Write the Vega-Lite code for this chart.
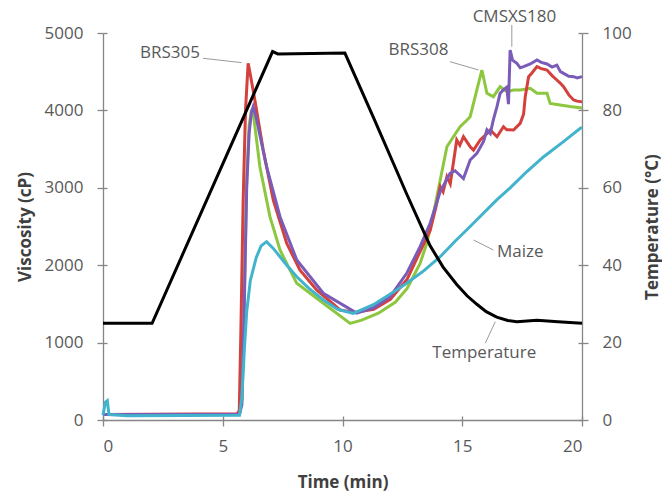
{
  "$schema": "https://vega.github.io/schema/vega-lite/v6.json",
  "width": 479,
  "height": 387,
  "autosize": {"type": "none"},
  "padding": {"left": 103, "top": 33, "right": 80, "bottom": 73},
  "background": "white",
  "config": {
    "view": {"stroke": null},
    "font": "Open Sans",
    "axis": {"grid": false, "domainColor": "#868686", "tickColor": "#868686", "labelColor": "#595959", "labelFont": "Open Sans", "labelFontSize": 17, "titleFont": "Open Sans", "titleFontSize": 17, "titleFontWeight": "bold", "titleColor": "#404040", "tickSize": 6, "domainWidth": 1.3, "tickWidth": 1.3}
  },
  "datasets": {
    "visc": [
      {"series": "BRS308", "time": 0, "viscosity": 70},
      {"series": "BRS308", "time": 5.7, "viscosity": 75},
      {"series": "BRS308", "time": 5.8, "viscosity": 250},
      {"series": "BRS308", "time": 5.9, "viscosity": 1600},
      {"series": "BRS308", "time": 6.0, "viscosity": 3100},
      {"series": "BRS308", "time": 6.1, "viscosity": 3800},
      {"series": "BRS308", "time": 6.2, "viscosity": 4005},
      {"series": "BRS308", "time": 6.3, "viscosity": 3900},
      {"series": "BRS308", "time": 6.55, "viscosity": 3272},
      {"series": "BRS308", "time": 6.97, "viscosity": 2627},
      {"series": "BRS308", "time": 7.39, "viscosity": 2196},
      {"series": "BRS308", "time": 8.09, "viscosity": 1766},
      {"series": "BRS308", "time": 9.2, "viscosity": 1508},
      {"series": "BRS308", "time": 10.32, "viscosity": 1249},
      {"series": "BRS308", "time": 10.8, "viscosity": 1290},
      {"series": "BRS308", "time": 11.5, "viscosity": 1380},
      {"series": "BRS308", "time": 12.2, "viscosity": 1520},
      {"series": "BRS308", "time": 12.7, "viscosity": 1700},
      {"series": "BRS308", "time": 13.24, "viscosity": 2024},
      {"series": "BRS308", "time": 13.52, "viscosity": 2283},
      {"series": "BRS308", "time": 13.8, "viscosity": 2670},
      {"series": "BRS308", "time": 14.08, "viscosity": 3101},
      {"series": "BRS308", "time": 14.36, "viscosity": 3531},
      {"series": "BRS308", "time": 14.63, "viscosity": 3660},
      {"series": "BRS308", "time": 14.91, "viscosity": 3789},
      {"series": "BRS308", "time": 15.2, "viscosity": 3876},
      {"series": "BRS308", "time": 15.33, "viscosity": 3919},
      {"series": "BRS308", "time": 15.61, "viscosity": 4264},
      {"series": "BRS308", "time": 15.82, "viscosity": 4522},
      {"series": "BRS308", "time": 16.03, "viscosity": 4221},
      {"series": "BRS308", "time": 16.3, "viscosity": 4177},
      {"series": "BRS308", "time": 16.58, "viscosity": 4306},
      {"series": "BRS308", "time": 16.86, "viscosity": 4242},
      {"series": "BRS308", "time": 17.14, "viscosity": 4264},
      {"series": "BRS308", "time": 17.42, "viscosity": 4264},
      {"series": "BRS308", "time": 17.84, "viscosity": 4285},
      {"series": "BRS308", "time": 18.12, "viscosity": 4221},
      {"series": "BRS308", "time": 18.54, "viscosity": 4221},
      {"series": "BRS308", "time": 18.67, "viscosity": 4091},
      {"series": "BRS308", "time": 19.09, "viscosity": 4070},
      {"series": "BRS308", "time": 19.5, "viscosity": 4050},
      {"series": "BRS308", "time": 20, "viscosity": 4030},

      {"series": "BRS305", "time": 0, "viscosity": 70},
      {"series": "BRS305", "time": 5.6, "viscosity": 80},
      {"series": "BRS305", "time": 5.69, "viscosity": 120},
      {"series": "BRS305", "time": 5.76, "viscosity": 1200},
      {"series": "BRS305", "time": 5.85, "viscosity": 2800},
      {"series": "BRS305", "time": 5.95, "viscosity": 4000},
      {"series": "BRS305", "time": 6.06, "viscosity": 4608},
      {"series": "BRS305", "time": 6.13, "viscosity": 4500},
      {"series": "BRS305", "time": 6.34, "viscosity": 4134},
      {"series": "BRS305", "time": 6.69, "viscosity": 3488},
      {"series": "BRS305", "time": 7.11, "viscosity": 2842},
      {"series": "BRS305", "time": 7.67, "viscosity": 2283},
      {"series": "BRS305", "time": 8.22, "viscosity": 1938},
      {"series": "BRS305", "time": 8.92, "viscosity": 1680},
      {"series": "BRS305", "time": 9.9, "viscosity": 1421},
      {"series": "BRS305", "time": 10.5, "viscosity": 1390},
      {"series": "BRS305", "time": 11.3, "viscosity": 1430},
      {"series": "BRS305", "time": 12.0, "viscosity": 1560},
      {"series": "BRS305", "time": 12.7, "viscosity": 1820},
      {"series": "BRS305", "time": 13.2, "viscosity": 2150},
      {"series": "BRS305", "time": 13.66, "viscosity": 2450},
      {"series": "BRS305", "time": 13.9, "viscosity": 2750},
      {"series": "BRS305", "time": 14.08, "viscosity": 3015},
      {"series": "BRS305", "time": 14.2, "viscosity": 2950},
      {"series": "BRS305", "time": 14.36, "viscosity": 3143},
      {"series": "BRS305", "time": 14.5, "viscosity": 3050},
      {"series": "BRS305", "time": 14.77, "viscosity": 3618},
      {"series": "BRS305", "time": 14.9, "viscosity": 3550},
      {"series": "BRS305", "time": 15.05, "viscosity": 3660},
      {"series": "BRS305", "time": 15.33, "viscosity": 3531},
      {"series": "BRS305", "time": 15.47, "viscosity": 3488},
      {"series": "BRS305", "time": 15.75, "viscosity": 3618},
      {"series": "BRS305", "time": 16.03, "viscosity": 3700},
      {"series": "BRS305", "time": 16.17, "viscosity": 3747},
      {"series": "BRS305", "time": 16.45, "viscosity": 3660},
      {"series": "BRS305", "time": 16.72, "viscosity": 3789},
      {"series": "BRS305", "time": 16.86, "viscosity": 3750},
      {"series": "BRS305", "time": 17.14, "viscosity": 3747},
      {"series": "BRS305", "time": 17.42, "viscosity": 3833},
      {"series": "BRS305", "time": 17.56, "viscosity": 3950},
      {"series": "BRS305", "time": 17.63, "viscosity": 4177},
      {"series": "BRS305", "time": 17.77, "viscosity": 4436},
      {"series": "BRS305", "time": 17.9, "viscosity": 4480},
      {"series": "BRS305", "time": 18.12, "viscosity": 4565},
      {"series": "BRS305", "time": 18.3, "viscosity": 4540},
      {"series": "BRS305", "time": 18.54, "viscosity": 4522},
      {"series": "BRS305", "time": 18.75, "viscosity": 4450},
      {"series": "BRS305", "time": 18.95, "viscosity": 4393},
      {"series": "BRS305", "time": 19.1, "viscosity": 4350},
      {"series": "BRS305", "time": 19.23, "viscosity": 4306},
      {"series": "BRS305", "time": 19.45, "viscosity": 4200},
      {"series": "BRS305", "time": 19.65, "viscosity": 4134},
      {"series": "BRS305", "time": 19.8, "viscosity": 4120},
      {"series": "BRS305", "time": 20, "viscosity": 4110},

      {"series": "CMSXS180", "time": 0, "viscosity": 70},
      {"series": "CMSXS180", "time": 5.7, "viscosity": 75},
      {"series": "CMSXS180", "time": 5.8, "viscosity": 200},
      {"series": "CMSXS180", "time": 5.9, "viscosity": 1500},
      {"series": "CMSXS180", "time": 6.0, "viscosity": 3000},
      {"series": "CMSXS180", "time": 6.1, "viscosity": 3700},
      {"series": "CMSXS180", "time": 6.2, "viscosity": 3980},
      {"series": "CMSXS180", "time": 6.27, "viscosity": 4048},
      {"series": "CMSXS180", "time": 6.4, "viscosity": 3900},
      {"series": "CMSXS180", "time": 6.83, "viscosity": 3272},
      {"series": "CMSXS180", "time": 7.39, "viscosity": 2627},
      {"series": "CMSXS180", "time": 8.09, "viscosity": 2067},
      {"series": "CMSXS180", "time": 9.2, "viscosity": 1637},
      {"series": "CMSXS180", "time": 10.59, "viscosity": 1382},
      {"series": "CMSXS180", "time": 11.3, "viscosity": 1450},
      {"series": "CMSXS180", "time": 11.99, "viscosity": 1593},
      {"series": "CMSXS180", "time": 12.68, "viscosity": 1895},
      {"series": "CMSXS180", "time": 13.24, "viscosity": 2239},
      {"series": "CMSXS180", "time": 13.66, "viscosity": 2541},
      {"series": "CMSXS180", "time": 14.08, "viscosity": 2950},
      {"series": "CMSXS180", "time": 14.49, "viscosity": 3187},
      {"series": "CMSXS180", "time": 14.7, "viscosity": 3220},
      {"series": "CMSXS180", "time": 15.05, "viscosity": 3120},
      {"series": "CMSXS180", "time": 15.33, "viscosity": 3359},
      {"series": "CMSXS180", "time": 15.61, "viscosity": 3445},
      {"series": "CMSXS180", "time": 15.89, "viscosity": 3600},
      {"series": "CMSXS180", "time": 16.03, "viscosity": 3750},
      {"series": "CMSXS180", "time": 16.17, "viscosity": 3700},
      {"series": "CMSXS180", "time": 16.3, "viscosity": 3880},
      {"series": "CMSXS180", "time": 16.45, "viscosity": 4048},
      {"series": "CMSXS180", "time": 16.58, "viscosity": 4221},
      {"series": "CMSXS180", "time": 16.72, "viscosity": 4264},
      {"series": "CMSXS180", "time": 16.86, "viscosity": 4300},
      {"series": "CMSXS180", "time": 16.93, "viscosity": 4080},
      {"series": "CMSXS180", "time": 17.0, "viscosity": 4780},
      {"series": "CMSXS180", "time": 17.1, "viscosity": 4650},
      {"series": "CMSXS180", "time": 17.28, "viscosity": 4608},
      {"series": "CMSXS180", "time": 17.42, "viscosity": 4550},
      {"series": "CMSXS180", "time": 17.56, "viscosity": 4565},
      {"series": "CMSXS180", "time": 17.84, "viscosity": 4600},
      {"series": "CMSXS180", "time": 18.12, "viscosity": 4651},
      {"series": "CMSXS180", "time": 18.3, "viscosity": 4620},
      {"series": "CMSXS180", "time": 18.54, "viscosity": 4600},
      {"series": "CMSXS180", "time": 18.75, "viscosity": 4560},
      {"series": "CMSXS180", "time": 18.95, "viscosity": 4586},
      {"series": "CMSXS180", "time": 19.1, "viscosity": 4500},
      {"series": "CMSXS180", "time": 19.23, "viscosity": 4479},
      {"series": "CMSXS180", "time": 19.45, "viscosity": 4440},
      {"series": "CMSXS180", "time": 19.65, "viscosity": 4436},
      {"series": "CMSXS180", "time": 19.8, "viscosity": 4420},
      {"series": "CMSXS180", "time": 20, "viscosity": 4436},

      {"series": "Maize", "time": 0, "viscosity": 60},
      {"series": "Maize", "time": 0.1, "viscosity": 230},
      {"series": "Maize", "time": 0.18, "viscosity": 250},
      {"series": "Maize", "time": 0.25, "viscosity": 70},
      {"series": "Maize", "time": 1, "viscosity": 55},
      {"series": "Maize", "time": 5.7, "viscosity": 60},
      {"series": "Maize", "time": 5.8, "viscosity": 300},
      {"series": "Maize", "time": 5.9, "viscosity": 900},
      {"series": "Maize", "time": 6.0, "viscosity": 1400},
      {"series": "Maize", "time": 6.15, "viscosity": 1800},
      {"series": "Maize", "time": 6.4, "viscosity": 2100},
      {"series": "Maize", "time": 6.6, "viscosity": 2250},
      {"series": "Maize", "time": 6.83, "viscosity": 2304},
      {"series": "Maize", "time": 7.1, "viscosity": 2220},
      {"series": "Maize", "time": 7.39, "viscosity": 2110},
      {"series": "Maize", "time": 7.7, "viscosity": 1990},
      {"series": "Maize", "time": 8.09, "viscosity": 1851},
      {"series": "Maize", "time": 8.6, "viscosity": 1700},
      {"series": "Maize", "time": 9.2, "viscosity": 1550},
      {"series": "Maize", "time": 9.8, "viscosity": 1430},
      {"series": "Maize", "time": 10.45, "viscosity": 1378},
      {"series": "Maize", "time": 11.29, "viscosity": 1490},
      {"series": "Maize", "time": 12.26, "viscosity": 1680},
      {"series": "Maize", "time": 12.68, "viscosity": 1766},
      {"series": "Maize", "time": 13.4, "viscosity": 1930},
      {"series": "Maize", "time": 14.08, "viscosity": 2110},
      {"series": "Maize", "time": 14.7, "viscosity": 2310},
      {"series": "Maize", "time": 15.33, "viscosity": 2500},
      {"series": "Maize", "time": 16.44, "viscosity": 2843},
      {"series": "Maize", "time": 17.0, "viscosity": 3000},
      {"series": "Maize", "time": 17.7, "viscosity": 3210},
      {"series": "Maize", "time": 18.4, "viscosity": 3402},
      {"series": "Maize", "time": 19.2, "viscosity": 3590},
      {"series": "Maize", "time": 19.93, "viscosity": 3769},
      {"series": "Maize", "time": 20, "viscosity": 3780}
    ],
    "temp": [
      {"time": 0, "temperature": 25},
      {"time": 2.05, "temperature": 25},
      {"time": 7.08, "temperature": 95.2},
      {"time": 7.3, "temperature": 94.6},
      {"time": 10.1, "temperature": 94.8},
      {"time": 11.29, "temperature": 78.2},
      {"time": 12.26, "temperature": 64.4},
      {"time": 12.68, "temperature": 58.4},
      {"time": 13.38, "temperature": 48.8},
      {"time": 13.66, "temperature": 45.0},
      {"time": 14.2, "temperature": 39.5},
      {"time": 14.77, "temperature": 35.0},
      {"time": 15.2, "temperature": 32.1},
      {"time": 15.61, "temperature": 29.9},
      {"time": 16.0, "temperature": 28.0},
      {"time": 16.44, "temperature": 26.6},
      {"time": 16.9, "temperature": 25.7},
      {"time": 17.28, "temperature": 25.4},
      {"time": 18.12, "temperature": 25.8},
      {"time": 19.0, "temperature": 25.4},
      {"time": 20, "temperature": 25.0}
    ],
    "labels": [
      {"label": "BRS305", "time": 2.8, "viscosity": 4738},
      {"label": "BRS308", "time": 13.17, "viscosity": 4780},
      {"label": "CMSXS180", "time": 17.18, "viscosity": 5211},
      {"label": "Maize", "time": 17.42, "viscosity": 2171},
      {"label": "Temperature", "time": 15.92, "viscosity": 870}
    ],
    "leaders": [
      {"label": "BRS305", "time": 4.18, "viscosity": 4673, "time2": 5.79, "viscosity2": 4617},
      {"label": "BRS308", "time": 14.49, "viscosity": 4629, "time2": 15.68, "viscosity2": 4522},
      {"label": "CMSXS180", "time": 17.07, "viscosity": 5103, "time2": 17.07, "viscosity2": 4823},
      {"label": "Maize", "time": 16.3, "viscosity": 2196, "time2": 15.47, "viscosity2": 2326},
      {"label": "Temperature", "time": 15.96, "viscosity": 991, "time2": 16.38, "viscosity2": 1270}
    ]
  },
  "layer": [
    {
      "layer": [
        {
          "data": {"name": "visc"},
          "mark": {"type": "line", "strokeWidth": 3},
          "encoding": {
            "x": {"field": "time", "type": "quantitative", "scale": {"domain": [0, 20], "nice": false}, "axis": {"values": [0, 5, 10, 15, 20], "title": "Time (min)", "labelPadding": 12, "titlePadding": 20}},
            "y": {"field": "viscosity", "type": "quantitative", "scale": {"domain": [0, 5000], "nice": false}, "axis": {"values": [0, 1000, 2000, 3000, 4000, 5000], "format": "d", "title": "Viscosity (cP)", "labelPadding": 14, "titlePadding": 10}},
            "color": {"field": "series", "type": "nominal", "scale": {"domain": ["BRS308", "BRS305", "CMSXS180", "Maize"], "range": ["#8dc63f", "#d4403c", "#7a5cb8", "#42b3cc"]}, "legend": null}
          }
        },
        {
          "data": {"name": "leaders"},
          "mark": {"type": "rule", "color": "#9a9a9a", "strokeWidth": 1},
          "encoding": {
            "x": {"field": "time", "type": "quantitative", "axis": {"orient": "bottom", "values": [0, 5, 10, 15, 20], "tickSize": -4, "labels": false, "domain": false, "title": null}},
            "x2": {"field": "time2"},
            "y": {"field": "viscosity", "type": "quantitative", "axis": {"orient": "left", "values": [0, 1000, 2000, 3000, 4000, 5000], "tickSize": -4, "labels": false, "domain": false, "title": null}},
            "y2": {"field": "viscosity2"}
          }
        },
        {
          "data": {"name": "labels"},
          "mark": {"type": "text", "font": "Open Sans", "fontSize": 17, "color": "#595959", "clip": false},
          "encoding": {
            "x": {"field": "time", "type": "quantitative", "axis": null},
            "y": {"field": "viscosity", "type": "quantitative", "axis": null},
            "text": {"field": "label"}
          }
        }
      ],
      "resolve": {"axis": {"x": "independent", "y": "independent"}}
    },
    {
      "layer": [
        {
          "data": {"name": "temp"},
          "mark": {"type": "line", "strokeWidth": 3, "color": "#000000"},
          "encoding": {
            "x": {"field": "time", "type": "quantitative", "axis": null},
            "y": {"field": "temperature", "type": "quantitative", "scale": {"domain": [0, 100], "nice": false}, "axis": {"orient": "right", "values": [0, 20, 40, 60, 80, 100], "title": "Temperature (°C)", "titleAngle": -90, "labelPadding": 14, "titlePadding": 30}}
          }
        },
        {
          "data": {"name": "temp"},
          "mark": {"type": "line", "strokeWidth": 0, "opacity": 0},
          "encoding": {
            "x": {"field": "time", "type": "quantitative", "axis": null},
            "y": {"field": "temperature", "type": "quantitative", "axis": {"orient": "right", "values": [0, 20, 40, 60, 80, 100], "tickSize": -4, "labels": false, "domain": false, "title": null}}
          }
        }
      ],
      "resolve": {"axis": {"y": "independent"}}
    }
  ],
  "resolve": {"scale": {"y": "independent"}, "axis": {"x": "independent"}}
}
